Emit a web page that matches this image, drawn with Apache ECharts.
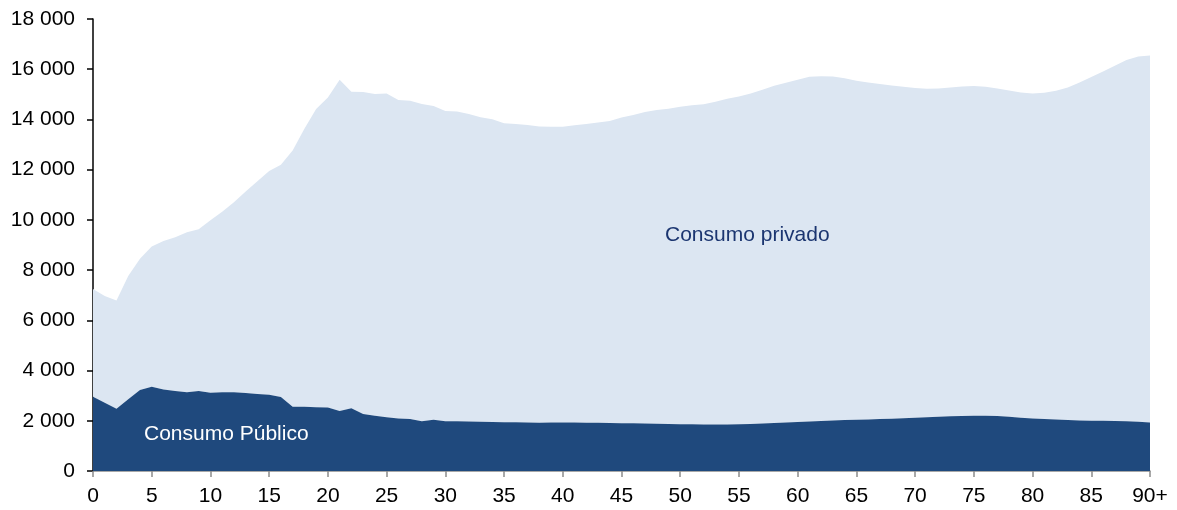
<!DOCTYPE html>
<html>
<head>
<meta charset="utf-8">
<script src="https://cdn.jsdelivr.net/npm/echarts@6/dist/echarts.min.js"></script>
<style>
html,body{margin:0;padding:0;background:#fff;}
#chart{width:1177px;height:510px;}
</style>
</head>
<body>
<div id="chart"></div>
<script>
var ages = ['0','1','2','3','4','5','6','7','8','9','10','11','12','13','14','15','16','17','18','19','20','21','22','23','24','25','26','27','28','29','30','31','32','33','34','35','36','37','38','39','40','41','42','43','44','45','46','47','48','49','50','51','52','53','54','55','56','57','58','59','60','61','62','63','64','65','66','67','68','69','70','71','72','73','74','75','76','77','78','79','80','81','82','83','84','85','86','87','88','89','90+'];

var consumoPublico = [2960,2720,2480,2860,3230,3360,3250,3190,3140,3190,3120,3140,3140,3110,3070,3040,2950,2560,2560,2540,2530,2390,2500,2270,2200,2140,2090,2070,1980,2040,1980,1980,1970,1960,1950,1940,1940,1930,1920,1930,1930,1930,1920,1920,1910,1900,1900,1890,1880,1870,1860,1860,1850,1850,1850,1860,1870,1890,1910,1930,1950,1970,1990,2010,2030,2040,2050,2070,2080,2100,2120,2140,2160,2180,2190,2200,2200,2190,2160,2120,2090,2070,2050,2030,2010,2000,2000,1990,1980,1960,1930];

var consumoPrivado = [4290,4250,4310,4910,5220,5580,5910,6120,6370,6440,6870,7180,7560,8020,8470,8910,9250,10200,11070,11880,12340,13190,12600,12820,12810,12890,12680,12670,12640,12500,12360,12340,12250,12130,12060,11910,11880,11850,11800,11780,11780,11840,11900,11960,12030,12180,12280,12410,12500,12560,12650,12710,12760,12850,12970,13050,13160,13290,13430,13530,13630,13730,13730,13700,13610,13500,13420,13340,13270,13200,13130,13080,13070,13090,13120,13130,13100,13040,12990,12950,12940,12990,13090,13240,13460,13690,13910,14150,14390,14550,14620];

var yTicks = [0,2000,4000,6000,8000,10000,12000,14000,16000,18000];

var chart = echarts.init(document.getElementById('chart'), null, {renderer:'canvas'});
function fmt(v){ return String(v).replace(/\B(?=(\d{3})+(?!\d))/g, ' '); }

chart.setOption({
  animation:false,
  backgroundColor:'#ffffff',
  grid:{left:93,right:27,top:19,bottom:39,containLabel:false},
  xAxis:{
    type:'category',
    data:ages,
    boundaryGap:false,
    axisLine:{show:true,lineStyle:{color:'#8c8c8c',width:1.5}},
    axisTick:{show:true,length:6,interval:function(i){return i%5===0;},lineStyle:{color:'#8c8c8c',width:1.5}},
    axisLabel:{interval:function(i){return i%5===0;},margin:15,color:'#000',fontFamily:'Liberation Sans, Arial, sans-serif',fontSize:21},
    splitLine:{show:false}
  },
  yAxis:{
    type:'value',
    min:yTicks[0],
    max:yTicks[yTicks.length-1],
    interval:2000,
    axisLine:{show:true,lineStyle:{color:'#000',width:1.5}},
    axisTick:{show:true,length:6,lineStyle:{color:'#000',width:1.5}},
    axisLabel:{margin:18,color:'#000',fontFamily:'Liberation Sans, Arial, sans-serif',fontSize:21,formatter:fmt},
    splitLine:{show:false}
  },
  series:[
    {name:'Consumo Público',type:'line',stack:'total',data:consumoPublico,symbol:'none',
     lineStyle:{width:0},areaStyle:{color:'#1f497d',opacity:1},z:3},
    {name:'Consumo privado',type:'line',stack:'total',data:consumoPrivado,symbol:'none',
     lineStyle:{width:0},areaStyle:{color:'#dce6f2',opacity:1},z:2}
  ],
  graphic:[
    {type:'text',left:665,top:225,z:10,style:{text:'Consumo privado',fill:'#1b3570',font:'21px "Liberation Sans", Arial, sans-serif'}},
    {type:'text',left:144,top:424,z:10,style:{text:'Consumo Público',fill:'#ffffff',font:'21px "Liberation Sans", Arial, sans-serif'}}
  ]
});
</script>
</body>
</html>
